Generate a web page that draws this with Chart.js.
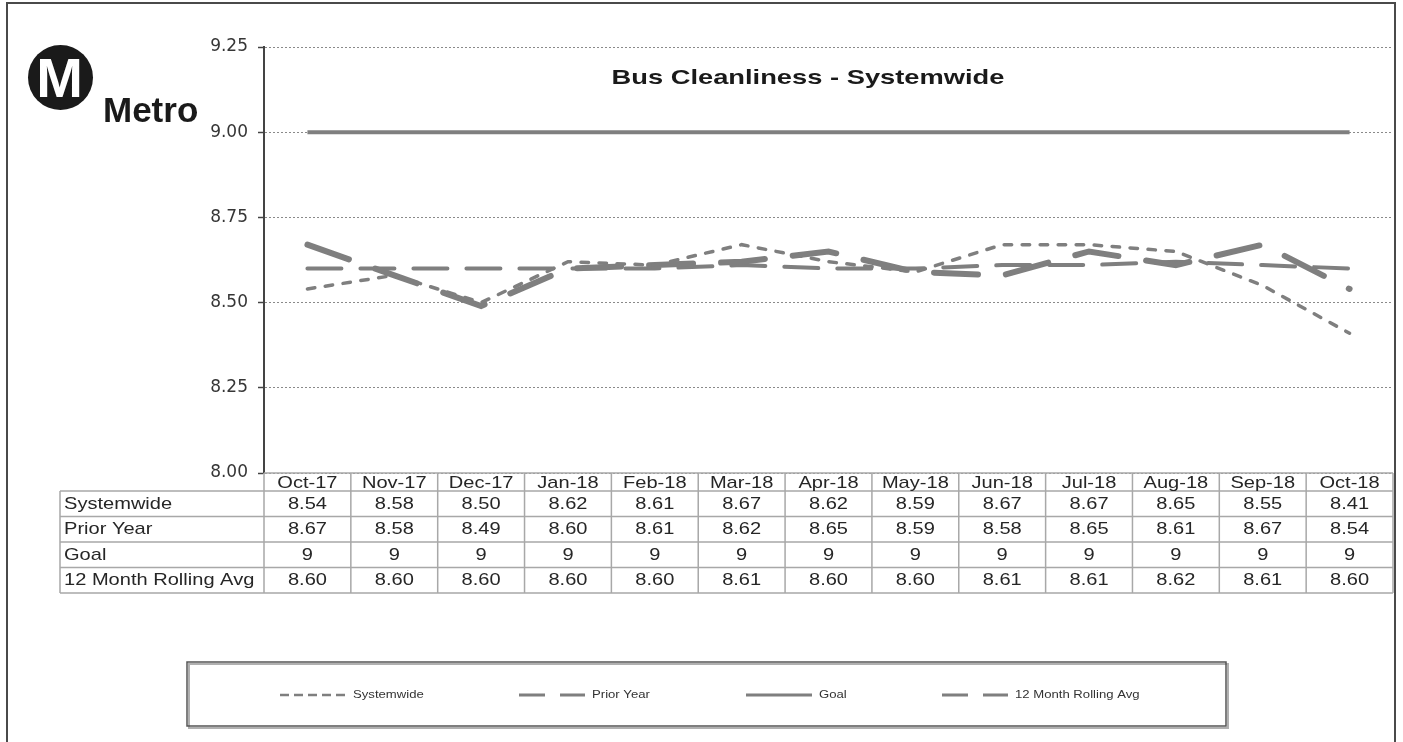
<!DOCTYPE html>
<html lang="en">
<head>
    <meta charset="UTF-8">
    <title>Bus Cleanliness - Systemwide</title>
    <script src="https://cdn.jsdelivr.net/npm/chart.js"></script>
    <style>
        body {
            margin: 0;
            background-color: #ffffff;
        }
        #page {
            position: relative;
            width: 1403px;
            height: 742px;
            overflow: hidden;
        }
    </style>
</head>
<body>
    <div id="page">
        <canvas id="cleanChart"></canvas>
    </div>

    <script>
        const months = ['Oct-17', 'Nov-17', 'Dec-17', 'Jan-18', 'Feb-18', 'Mar-18', 'Apr-18',
                        'May-18', 'Jun-18', 'Jul-18', 'Aug-18', 'Sep-18', 'Oct-18'];
        const systemwide = [8.54, 8.58, 8.50, 8.62, 8.61, 8.67, 8.62, 8.59, 8.67, 8.67, 8.65, 8.55, 8.41];
        const priorYear  = [8.67, 8.58, 8.49, 8.60, 8.61, 8.62, 8.65, 8.59, 8.58, 8.65, 8.61, 8.67, 8.54];
        const goal       = [9, 9, 9, 9, 9, 9, 9, 9, 9, 9, 9, 9, 9];
        const rollingAvg = [8.60, 8.60, 8.60, 8.60, 8.60, 8.61, 8.60, 8.60, 8.61, 8.61, 8.62, 8.61, 8.60];
        const yTicks = [8.00, 8.25, 8.50, 8.75, 9.00, 9.25];

        const lineGray = '#7f7f7f';

        // legend look (thinner than the plotted lines, like the source)
        const legendStyle = [
            { dash: [9, 5], width: 2.5 },
            { dash: [26, 15], width: 3 },
            { dash: [], width: 3 },
            { dash: [26, 15], width: 3 }
        ];
        const legendX = [280, 519, 746, 942];

        function stretchText(ctx, text, x, y, font, align, sx, color) {
            ctx.save();
            ctx.font = font;
            ctx.fillStyle = color;
            ctx.textAlign = align;
            ctx.textBaseline = 'middle';
            ctx.translate(x, y);
            ctx.scale(sx, 1);
            ctx.fillText(text, 0, 0);
            ctx.restore();
        }

        const decor = {
            id: 'decor',
            afterDraw(chart) {
                const ctx = chart.ctx;
                const area = chart.chartArea;
                const xs = chart.scales.x;

                // outer frame
                ctx.save();
                ctx.strokeStyle = '#4a4a4a';
                ctx.lineWidth = 2;
                ctx.strokeRect(7, 3, 1388, 800);

                // logo
                ctx.fillStyle = '#1a1a1a';
                ctx.beginPath();
                ctx.arc(60.5, 77.5, 32.5, 0, Math.PI * 2);
                ctx.fill();
                ctx.fillStyle = '#ffffff';
                ctx.font = 'bold 56px "Liberation Sans", Arial, sans-serif';
                ctx.textAlign = 'center';
                ctx.textBaseline = 'alphabetic';
                ctx.fillText('M', 59.5, 97);
                ctx.fillStyle = '#1a1a1a';
                ctx.font = 'bold 35px "Liberation Sans", Arial, sans-serif';
                ctx.textAlign = 'left';
                ctx.fillText('Metro', 103, 122);
                ctx.restore();

                // title
                stretchText(ctx, 'Bus Cleanliness - Systemwide', 808, 78,
                    'bold 21px "Liberation Sans", Arial, sans-serif', 'center', 1.3, '#1a1a1a');

                // data table under the plot
                const band = (area.right - area.left) / months.length;
                const headTop = area.bottom;
                const headH = 18;
                const rowH = 25.5;
                const labelLeft = 60;
                const rows = [
                    { name: 'Systemwide', vals: systemwide, fmt: v => v.toFixed(2) },
                    { name: 'Prior Year', vals: priorYear, fmt: v => v.toFixed(2) },
                    { name: 'Goal', vals: goal, fmt: v => String(v) },
                    { name: '12 Month Rolling Avg', vals: rollingAvg, fmt: v => v.toFixed(2) }
                ];
                const bodyTop = headTop + headH;
                const bodyBottom = bodyTop + rows.length * rowH;

                ctx.save();
                ctx.strokeStyle = '#a8a8a8';
                ctx.lineWidth = 1.5;
                ctx.beginPath();
                ctx.moveTo(area.left, headTop);
                ctx.lineTo(area.right, headTop);
                for (let r = 0; r <= rows.length; r++) {
                    const y = bodyTop + r * rowH;
                    ctx.moveTo(labelLeft, y);
                    ctx.lineTo(area.right, y);
                }
                ctx.moveTo(labelLeft, bodyTop);
                ctx.lineTo(labelLeft, bodyBottom);
                for (let i = 0; i <= months.length; i++) {
                    const x = area.left + i * band;
                    ctx.moveTo(x, headTop);
                    ctx.lineTo(x, bodyBottom);
                }
                ctx.stroke();
                ctx.restore();

                const tableFont = '17px "Liberation Sans", Arial, sans-serif';
                months.forEach((m, i) => {
                    stretchText(ctx, m, xs.getPixelForValue(i), headTop + headH / 2 + 1,
                        tableFont, 'center', 1.18, '#262626');
                });
                rows.forEach((row, r) => {
                    const cy = bodyTop + r * rowH + rowH / 2 + 0.5;
                    stretchText(ctx, row.name, labelLeft + 4, cy, tableFont, 'left', 1.18, '#262626');
                    row.vals.forEach((v, i) => {
                        stretchText(ctx, row.fmt(v), xs.getPixelForValue(i), cy,
                            tableFont, 'center', 1.18, '#262626');
                    });
                });

                // legend box
                ctx.save();
                ctx.strokeStyle = '#b0b0b0';
                ctx.lineWidth = 2;
                ctx.strokeRect(189, 664, 1039, 64);
                ctx.strokeStyle = '#555555';
                ctx.lineWidth = 1.5;
                ctx.strokeRect(187, 662, 1039, 64);
                const ly = 695;
                chart.data.datasets.forEach((ds, i) => {
                    const st = legendStyle[i];
                    const x0 = legendX[i];
                    ctx.strokeStyle = ds.borderColor;
                    ctx.lineWidth = st.width;
                    ctx.setLineDash(st.dash);
                    ctx.beginPath();
                    ctx.moveTo(x0, ly);
                    ctx.lineTo(x0 + 66, ly);
                    ctx.stroke();
                    ctx.setLineDash([]);
                    stretchText(ctx, ds.label, x0 + 73, ly,
                        '10.5px "Liberation Sans", Arial, sans-serif', 'left', 1.25, '#333333');
                });
                ctx.restore();
            }
        };

        const ctx = document.getElementById('cleanChart').getContext('2d');
        const chart = new Chart(ctx, {
            type: 'line',
            data: {
                labels: months,
                datasets: [
                    {
                        label: 'Systemwide',
                        data: systemwide,
                        borderColor: lineGray,
                        borderWidth: 3.5,
                        borderDash: [7.5, 10.5],
                        borderCapStyle: 'round',
                        pointRadius: 0,
                        tension: 0
                    },
                    {
                        label: 'Prior Year',
                        data: priorYear,
                        borderColor: lineGray,
                        borderWidth: 6,
                        borderDash: [44, 28],
                        borderCapStyle: 'round',
                        pointRadius: 0,
                        tension: 0
                    },
                    {
                        label: 'Goal',
                        data: goal,
                        borderColor: lineGray,
                        borderWidth: 4,
                        pointRadius: 0,
                        tension: 0
                    },
                    {
                        label: '12 Month Rolling Avg',
                        data: rollingAvg,
                        borderColor: lineGray,
                        borderWidth: 4,
                        borderDash: [34, 19],
                        borderCapStyle: 'round',
                        pointRadius: 0,
                        tension: 0
                    }
                ]
            },
            options: {
                responsive: true,
                maintainAspectRatio: false,
                animation: false,
                layout: {
                    padding: { left: 0, top: 47, right: 10, bottom: 269 }
                },
                plugins: {
                    legend: { display: false },
                    title: { display: false },
                    tooltip: { enabled: false }
                },
                scales: {
                    x: {
                        display: false,
                        offset: true
                    },
                    y: {
                        min: 8,
                        max: 9.25,
                        afterFit: s => { s.width = 264; },
                        afterBuildTicks: s => { s.ticks = yTicks.map(v => ({ value: v })); },
                        ticks: {
                            padding: 10,
                            color: '#363636',
                            font: { family: 'DejaVu Sans', size: 17 },
                            callback: v => Number(v).toFixed(2)
                        },
                        grid: {
                            color: '#8a8a8a',
                            lineWidth: 1,
                            tickLength: 6,
                            tickColor: '#444444',
                            tickWidth: 1.5
                        },
                        border: {
                            color: '#444444',
                            width: 2,
                            dash: [2, 2]
                        }
                    }
                }
            },
            plugins: [decor]
        });
    </script>
</body>
</html>
